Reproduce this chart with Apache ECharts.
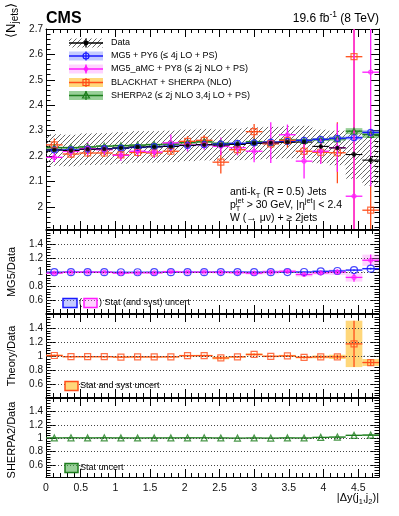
<!DOCTYPE html>
<html><head><meta charset="utf-8">
<script src="https://cdn.jsdelivr.net/npm/echarts@6/dist/echarts.min.js"></script>
<style>html,body{margin:0;padding:0;background:#fff}#c{width:399px;height:516px}</style>
</head><body><div id="c"></div>
<script>
// ---------------- DATA ----------------
const binCenters = [0.12,0.36,0.60,0.84,1.08,1.32,1.56,1.80,2.04,2.28,2.52,2.76,3.00,3.24,3.48,3.72,3.96,4.20,4.44,4.68];
const binHalfWidth = 0.12;

const dataVal  = [2.224,2.222,2.227,2.228,2.232,2.236,2.236,2.238,2.242,2.245,2.243,2.246,2.250,2.252,2.254,2.255,2.238,2.232,2.206,2.184];
const dataStat = [0.004,0.004,0.004,0.004,0.004,0.004,0.004,0.004,0.004,0.005,0.005,0.005,0.005,0.006,0.006,0.007,0.008,0.009,0.012,0.015];
const dataSyst = [0.062,0.062,0.062,0.062,0.062,0.062,0.062,0.062,0.062,0.062,0.062,0.062,0.063,0.063,0.063,0.064,0.066,0.068,0.095,0.100];

const mg5Val = [2.224,2.224,2.227,2.229,2.231,2.234,2.237,2.239,2.242,2.245,2.247,2.250,2.252,2.255,2.258,2.262,2.266,2.270,2.272,2.293];
const mg5Err = [0.003,0.003,0.003,0.003,0.003,0.003,0.003,0.003,0.003,0.003,0.003,0.003,0.003,0.003,0.004,0.004,0.005,0.006,0.008,0.010];

const amcVal = [2.195,2.218,2.229,2.225,2.203,2.219,2.216,2.252,2.243,2.245,2.238,2.233,2.219,2.253,2.284,2.180,2.219,2.233,2.042,2.530];
const amcErr = [0.018,0.020,0.026,0.020,0.022,0.022,0.024,0.033,0.025,0.020,0.035,0.030,0.043,0.080,0.040,0.068,0.050,0.095,0.700,0.450];

const bhVal = [2.244,2.208,2.212,2.212,2.205,2.214,2.212,2.219,2.258,2.262,2.176,2.225,2.296,2.248,2.262,2.219,2.215,2.213,2.591,1.987];
const bhErr = [0.025,0.015,0.015,0.015,0.015,0.015,0.015,0.015,0.020,0.020,0.045,0.020,0.030,0.020,0.030,0.030,0.040,0.120,0.800,0.100];

const sh2Val = [2.233,2.233,2.236,2.239,2.241,2.243,2.245,2.247,2.253,2.256,2.250,2.248,2.256,2.254,2.263,2.262,2.265,2.268,2.298,2.285];
const sh2Err = [0.004,0.004,0.004,0.004,0.004,0.004,0.004,0.004,0.004,0.004,0.004,0.004,0.004,0.005,0.005,0.005,0.006,0.008,0.012,0.014];

// ratio panels
const dataStatRel = [0.002,0.002,0.002,0.002,0.002,0.002,0.002,0.002,0.002,0.002,0.002,0.002,0.002,0.003,0.003,0.003,0.004,0.004,0.006,0.007];
const mg5Ratio    = [1.000,1.001,1.000,1.000,0.999,0.999,1.000,1.000,1.000,1.000,1.002,1.002,1.001,1.001,1.002,1.003,1.013,1.017,1.030,1.050];
const mg5RatioErr = [0.004,0.004,0.004,0.004,0.004,0.004,0.004,0.004,0.004,0.004,0.004,0.004,0.004,0.004,0.005,0.005,0.006,0.007,0.009,0.012];
const amcRatio    = [0.987,0.998,1.001,0.999,0.987,0.992,0.991,1.006,1.000,1.000,0.998,0.994,0.986,1.000,1.013,0.967,0.991,1.000,0.926,1.170];
const amcRatioErr = [0.012,0.012,0.014,0.012,0.012,0.012,0.014,0.016,0.014,0.012,0.018,0.016,0.020,0.030,0.020,0.030,0.025,0.040,0.060,0.080];
const bhRatio     = [1.010,0.993,0.993,0.993,0.988,0.990,0.990,0.991,1.007,1.008,0.975,0.991,1.025,0.998,1.004,0.984,0.990,0.991,1.175,0.910];
const bhRatioErr  = [0.012,0.010,0.010,0.010,0.010,0.010,0.010,0.010,0.012,0.012,0.020,0.012,0.015,0.012,0.015,0.015,0.020,0.030,0.330,0.050];
const sh2Ratio    = [1.004,1.005,1.004,1.005,1.004,1.003,1.004,1.004,1.005,1.005,1.003,1.001,1.003,1.001,1.004,1.003,1.012,1.016,1.042,1.046];
const sh2RatioErr = [0.004,0.004,0.004,0.004,0.004,0.004,0.004,0.004,0.004,0.004,0.004,0.004,0.004,0.005,0.005,0.005,0.006,0.007,0.009,0.011];

// tick labels
const xTickValues = [0,0.5,1,1.5,2,2.5,3,3.5,4,4.5];
const xTickLabels = ['0','0.5','1','1.5','2','2.5','3','3.5','4','4.5'];
const mainYTickValues = [2.0,2.1,2.2,2.3,2.4,2.5,2.6,2.7];
const mainYTickLabels = ['2','2.1','2.2','2.3','2.4','2.5','2.6','2.7'];
const ratioYTickValues = [0.6,0.8,1.0,1.2,1.4];
const ratioYTickLabels = ['0.6','0.8','1','1.2','1.4'];
const ratioGuideLines = [0.6,0.8,1.0,1.2,1.4];

// ---------------- STYLE ----------------
const FONT = '"Liberation Sans", Arial, Helvetica, sans-serif';
const COL = {
  blue:'#1a1aff', blueBand:'rgba(110,125,255,0.40)',
  mag:'#ff1aff', magBand:'rgba(255,130,255,0.35)',
  orange:'#ff4d1a', orBand:'#ffd77a',
  green:'#1d7d1d', greenBand:'rgba(70,170,70,0.55)'
};
const X_MIN = 0, X_MAX = 4.8;
const GRIDS = [
  {top:29,  height:200, min:1.913, max:2.7, major:mainYTickValues, labels:mainYTickLabels, step:0.02},
  {top:230, height:83,  min:0.42,  max:1.6, major:ratioYTickValues, labels:ratioYTickLabels, step:0.04},
  {top:314, height:83,  min:0.42,  max:1.6, major:ratioYTickValues, labels:ratioYTickLabels, step:0.04},
  {top:398, height:79,  min:0.42,  max:1.6, major:ratioYTickValues, labels:ratioYTickLabels, step:0.04}
];

function minorList(min, max, step, majors) {
  const out = [];
  const s = Math.ceil(min/step - 1e-9);
  for (let k = s; k*step <= max + 1e-9; k++) {
    const v = +(k*step).toFixed(4);
    if (!majors.some(m => Math.abs(m - v) < 1e-6)) out.push(v);
  }
  return out;
}
function lookup(vals, labs) {
  return v => { for (let i=0;i<vals.length;i++) if (Math.abs(vals[i]-v) < 1e-6) return labs[i]; return ''; };
}
const xMinor = minorList(X_MIN, X_MAX, 0.1, xTickValues);

const xAxes = [], yAxes = [], grids = [];
GRIDS.forEach((g, gi) => {
  grids.push({left:46, width:333, top:g.top, height:g.height, containLabel:false});
  const last = gi === GRIDS.length-1;
  const mkX = (pos, vals, len, line, lab) => ({
    type:'value', gridIndex:gi, position:pos, min:X_MIN, max:X_MAX,
    axisLine:{show:line, onZero:false, lineStyle:{color:'#000', width:1}},
    axisTick:{show:true, inside:true, length:len, customValues:vals, lineStyle:{color:'#000', width:1}},
    axisLabel:lab ? {show:true, customValues:vals, color:'#111', fontSize:10.5, fontFamily:FONT, margin:6,
                     formatter:lookup(xTickValues, xTickLabels)} : {show:false},
    splitLine:{show:false}
  });
  xAxes.push(mkX('bottom', xTickValues, 8, true, last));
  xAxes.push(mkX('bottom', xMinor, 4, false, false));
  xAxes.push(mkX('top', xTickValues, 8, true, false));
  xAxes.push(mkX('top', xMinor, 4, false, false));
  const yMinor = minorList(g.min, g.max, g.step, g.major);
  const mkY = (pos, vals, len, line, lab) => ({
    type:'value', gridIndex:gi, position:pos, min:g.min, max:g.max,
    axisLine:{show:line, onZero:false, lineStyle:{color:'#000', width:1}},
    axisTick:{show:true, inside:true, length:len, customValues:vals, lineStyle:{color:'#000', width:1}},
    axisLabel:lab ? {show:true, customValues:vals, color:'#111', fontSize:10, fontFamily:FONT, margin:3,
                     formatter:lookup(g.major, g.labels)} : {show:false},
    splitLine:{show:false}
  });
  yAxes.push(mkY('left', g.major, 9, true, true));
  yAxes.push(mkY('left', yMinor, 4.5, false, false));
  yAxes.push(mkY('right', g.major, 9, true, false));
  yAxes.push(mkY('right', yMinor, 4.5, false, false));
});

// hatch pattern
function hatchCanvas(color) {
  const c = document.createElement('canvas'); c.width = 5; c.height = 5;
  const g = c.getContext('2d'); g.strokeStyle = color; g.lineWidth = 0.9;
  g.beginPath();
  g.moveTo(0,5); g.lineTo(5,0);
  g.moveTo(-1,1); g.lineTo(1,-1);
  g.moveTo(4,6); g.lineTo(6,4);
  g.stroke();
  return c;
}
const HATCH = {type:'pattern', image:hatchCanvas('#555'), repeat:'repeat'};

// ---------------- SERIES HELPERS ----------------
function bandSeries(gi, vals, errs, fill, z, stroke) {
  return {
    type:'custom', xAxisIndex:gi*4, yAxisIndex:gi*4, z:z, silent:true, animation:false,
    data: binCenters.map((c,i) => [c-binHalfWidth, c+binHalfWidth, vals[i]-errs[i], vals[i]+errs[i]]),
    renderItem: (params, api) => {
      const p0 = api.coord([api.value(0), api.value(3)]);
      const p1 = api.coord([api.value(1), api.value(2)]);
      const shape = echarts.graphic.clipRectByRect(
        {x:p0[0], y:p0[1], width:p1[0]-p0[0], height:p1[1]-p0[1]}, params.coordSys);
      if (!shape) return null;
      return {type:'rect', shape:shape, style:{fill:fill, stroke:stroke||null, lineWidth:stroke?0.8:0}};
    }
  };
}
function constBand(gi, errs, fill, z) {
  return bandSeries(gi, errs.map(() => 1), errs, fill, z);
}
function errSeries(gi, vals, errs, color, lw, z) {
  return {
    type:'custom', xAxisIndex:gi*4, yAxisIndex:gi*4, z:z, silent:true, animation:false,
    data: binCenters.map((c,i) => [c, vals[i], binHalfWidth, vals[i]-errs[i], vals[i]+errs[i]]),
    renderItem: (params, api) => {
      const cs = params.coordSys, top = cs.y, bot = cs.y + cs.height;
      const x = api.value(0), y = api.value(1), h = api.value(2);
      const a = api.coord([x-h, y]), b = api.coord([x+h, y]);
      const lo = api.coord([x, api.value(3)]), hi = api.coord([x, api.value(4)]);
      const cl = v => Math.max(top, Math.min(bot, v));
      const ch = [];
      if (a[1] >= top && a[1] <= bot)
        ch.push({type:'line', shape:{x1:a[0], y1:a[1], x2:b[0], y2:b[1]}, style:{stroke:color, lineWidth:lw}});
      ch.push({type:'line', shape:{x1:lo[0], y1:cl(lo[1]), x2:hi[0], y2:cl(hi[1])}, style:{stroke:color, lineWidth:lw}});
      return {type:'group', children:ch};
    }
  };
}
function markSeries(gi, vals, symbol, size, itemStyle, z, extra) {
  return Object.assign({
    type:'scatter', xAxisIndex:gi*4, yAxisIndex:gi*4, z:z, silent:true, animation:false,
    symbol:symbol, symbolSize:size, itemStyle:itemStyle,
    data: binCenters.map((c,i) => [c, vals[i]])
  }, extra || {});
}
const guideLines = {
  silent:true, symbol:'none', animation:false, label:{show:false},
  lineStyle:{type:[1,2], color:'#444', width:1},
  data: ratioGuideLines.map(v => ({yAxis:v}))
};
const open = c => ({color:'rgba(255,255,255,0)', borderColor:c, borderWidth:1.2});

const series = [
  // main panel
  bandSeries(0, dataVal, dataSyst, HATCH, 1),
  bandSeries(0, sh2Val, sh2Err, COL.greenBand, 2),
  bandSeries(0, mg5Val, mg5Err, COL.blueBand, 2),
  errSeries(0, sh2Val, sh2Err, COL.green, 1.3, 3),
  errSeries(0, mg5Val, mg5Err, COL.blue, 1.3, 3),
  errSeries(0, bhVal, bhErr, COL.orange, 1.3, 4),
  errSeries(0, amcVal, amcErr, COL.mag, 1.3, 4),
  errSeries(0, dataVal, dataStat, '#000', 1.1, 5),
  markSeries(0, sh2Val, 'triangle', 6, open(COL.green), 6),
  markSeries(0, mg5Val, 'circle', 6, open(COL.blue), 6),
  markSeries(0, bhVal, 'rect', 6, open(COL.orange), 6),
  markSeries(0, amcVal, 'circle', 4, open(COL.mag), 6),
  markSeries(0, dataVal, 'circle', 4.5, {color:'#000'}, 7),
  // MG5 / Data
  constBand(1, dataStatRel, HATCH, 1),
  bandSeries(1, amcRatio, amcRatioErr, COL.magBand, 2),
  bandSeries(1, mg5Ratio, mg5RatioErr, COL.blueBand, 2),
  errSeries(1, mg5Ratio, mg5RatioErr, COL.blue, 1.3, 3),
  errSeries(1, amcRatio, amcRatioErr, COL.mag, 1.3, 4),
  markSeries(1, mg5Ratio, 'circle', 7, open(COL.blue), 6, {markLine:guideLines}),
  markSeries(1, amcRatio, 'circle', 4, open(COL.mag), 6),
  // Theory / Data
  constBand(2, dataStatRel, HATCH, 1),
  bandSeries(2, bhRatio, bhRatioErr, COL.orBand, 2),
  errSeries(2, bhRatio, bhRatioErr, COL.orange, 1.3, 3),
  markSeries(2, bhRatio, 'rect', 6, open(COL.orange), 6, {markLine:guideLines}),
  // SHERPA2 / Data
  constBand(3, dataStatRel, HATCH, 1),
  bandSeries(3, sh2Ratio, sh2RatioErr, COL.greenBand, 2),
  errSeries(3, sh2Ratio, sh2RatioErr, COL.green, 1.3, 3),
  markSeries(3, sh2Ratio, 'triangle', 6, open(COL.green), 6, {markLine:guideLines})
];

// ---------------- TEXT HELPERS ----------------
const mctx = document.createElement('canvas').getContext('2d');
function fontOf(p) { return (p.b ? 'bold ' : '') + p.s + 'px ' + FONT; }
function tw(p) { mctx.font = fontOf(p); return mctx.measureText(p.t).width; }
function run(pieces, x, y, align, color) {
  const ws = pieces.map(p => p.stack ? 0 : tw(p));
  const total = ws.reduce((a,b) => a+b, 0);
  let cx = align === 'right' ? x - total : align === 'center' ? x - total/2 : x;
  return pieces.map((p,i) => {
    const el = {type:'text', x:cx, y:y + (p.dy||0), z:100,
      style:{text:p.t, font:fontOf(p), fill:color || '#000', align:'left', verticalAlign:'middle',
             textAlign:'left', textVerticalAlign:'middle'}};
    cx += ws[i];
    return el;
  });
}
function rotated(pieces, x, y, align) {
  return {type:'group', x:x, y:y, rotation:Math.PI/2, children:run(pieces, 0, 0, align, '#000')};
}

// legend (main)
function legendRow(y, bandFill, color, sym, label) {
  const els = [];
  els.push({type:'rect', shape:{x:69, y:y-4.5, width:34, height:9}, style:{fill:bandFill}});
  els.push({type:'line', shape:{x1:69, y1:y, x2:103, y2:y}, style:{stroke:color, lineWidth:1.3}});
  els.push({type:'line', shape:{x1:86, y1:y-4.5, x2:86, y2:y+4.5}, style:{stroke:color, lineWidth:1.3}});
  if (sym === 'dot') els.push({type:'circle', shape:{cx:86, cy:y, r:2.4}, style:{fill:color}});
  if (sym === 'circle') els.push({type:'circle', shape:{cx:86, cy:y, r:3}, style:{fill:'none', stroke:color, lineWidth:1.2}});
  if (sym === 'diamond') els.push({type:'polygon', shape:{points:[[86,y-4],[88.5,y],[86,y+4],[83.5,y]]}, style:{fill:color}});
  if (sym === 'square') els.push({type:'rect', shape:{x:83, y:y-3, width:6, height:6}, style:{fill:'none', stroke:color, lineWidth:1.2}});
  if (sym === 'triangle') els.push({type:'polygon', shape:{points:[[86,y-3.5],[89.5,y+2.5],[82.5,y+2.5]]}, style:{fill:'none', stroke:color, lineWidth:1.2}});
  els.push(...run([{t:label, s:9}], 111, y, 'left', '#000'));
  return els;
}

const graphics = [];
// header
graphics.push(...run([{t:'CMS', s:16, b:true}], 46, 18.5, 'left'));
graphics.push(...run([{t:'19.6 fb', s:12}, {t:'-1', s:8.5, dy:-4}, {t:' (8 TeV)', s:12}], 379, 18.3, 'right'));
// legend
graphics.push(...legendRow(43, HATCH, '#000', 'dot', 'Data'));
graphics.push(...legendRow(56, COL.blueBand, COL.blue, 'circle', 'MG5 + PY6 (\u2264 4j LO + PS)'));
graphics.push(...legendRow(69, COL.magBand, COL.mag, 'diamond', 'MG5_aMC + PY8 (\u2264 2j NLO + PS)'));
graphics.push(...legendRow(82.5, COL.orBand, COL.orange, 'square', 'BLACKHAT + SHERPA (NLO)'));
graphics.push(...legendRow(95.5, COL.greenBand, COL.green, 'triangle', 'SHERPA2 (\u2264 2j NLO 3,4j LO + PS)'));
// jet description
graphics.push(...run([{t:'anti-k', s:10.5}, {t:'T', s:7.5, dy:3.5}, {t:' (R = 0.5) Jets', s:10.5}], 230, 192, 'left'));
graphics.push(...run([{t:'p', s:10.5}, {t:'T', s:7.5, dy:3.5, stack:true}, {t:'jet', s:7.5, dy:-4}, {t:' > 30 GeV, |\u03b7', s:10.5},
                      {t:'jet', s:7.5, dy:-4}, {t:'| < 2.4', s:10.5}], 230, 205, 'left'));
graphics.push(...run([{t:'W (\u2192 \u03bc\u03bd) + \u2265 2jets', s:10.5}], 230, 218, 'left'));
// axis titles
graphics.push(rotated([{t:'\u27e8N', s:13}, {t:'jets', s:10, dy:4}, {t:'\u27e9', s:13}], 11, 3, 'right'));
graphics.push(rotated([{t:'MG5/Data', s:11}], 12, 272, 'center'));
graphics.push(rotated([{t:'Theory/Data', s:11}], 12, 356, 'center'));
graphics.push(rotated([{t:'SHERPA2/Data', s:11}], 12, 440, 'center'));
graphics.push(...run([{t:'|\u0394y(j', s:11}, {t:'1', s:7.5, dy:3.5}, {t:',j', s:11}, {t:'2', s:7.5, dy:3.5}, {t:')|', s:11}], 379, 498, 'right'));
// ratio legends
graphics.push({type:'rect', z:100, shape:{x:63, y:298.5, width:14, height:9}, style:{fill:COL.blueBand, stroke:COL.blue, lineWidth:1.5}});
graphics.push(...run([{t:'(', s:9}], 79, 303, 'left'));
graphics.push({type:'rect', z:100, shape:{x:84, y:298.5, width:13, height:9}, style:{fill:COL.magBand, stroke:COL.mag, lineWidth:1.5}});
graphics.push(...run([{t:') Stat (and syst) uncert', s:9}], 99, 303, 'left'));
graphics.push({type:'rect', z:100, shape:{x:65, y:381.5, width:13, height:9}, style:{fill:COL.orBand, stroke:COL.orange, lineWidth:1.5}});
graphics.push(...run([{t:'Stat and syst uncert', s:9}], 80, 386, 'left'));
graphics.push({type:'rect', z:100, shape:{x:65, y:463.5, width:13, height:9}, style:{fill:COL.greenBand, stroke:COL.green, lineWidth:1.5}});
graphics.push(...run([{t:'Stat uncert', s:9}], 80, 468, 'left'));

const chart = echarts.init(document.getElementById('c'), null, {renderer:'canvas'});
chart.setOption({
  animation:false,
  backgroundColor:'#fff',
  textStyle:{fontFamily:FONT},
  grid:grids, xAxis:xAxes, yAxis:yAxes, series:series,
  graphic:{elements:graphics}
});
</script></body></html>
